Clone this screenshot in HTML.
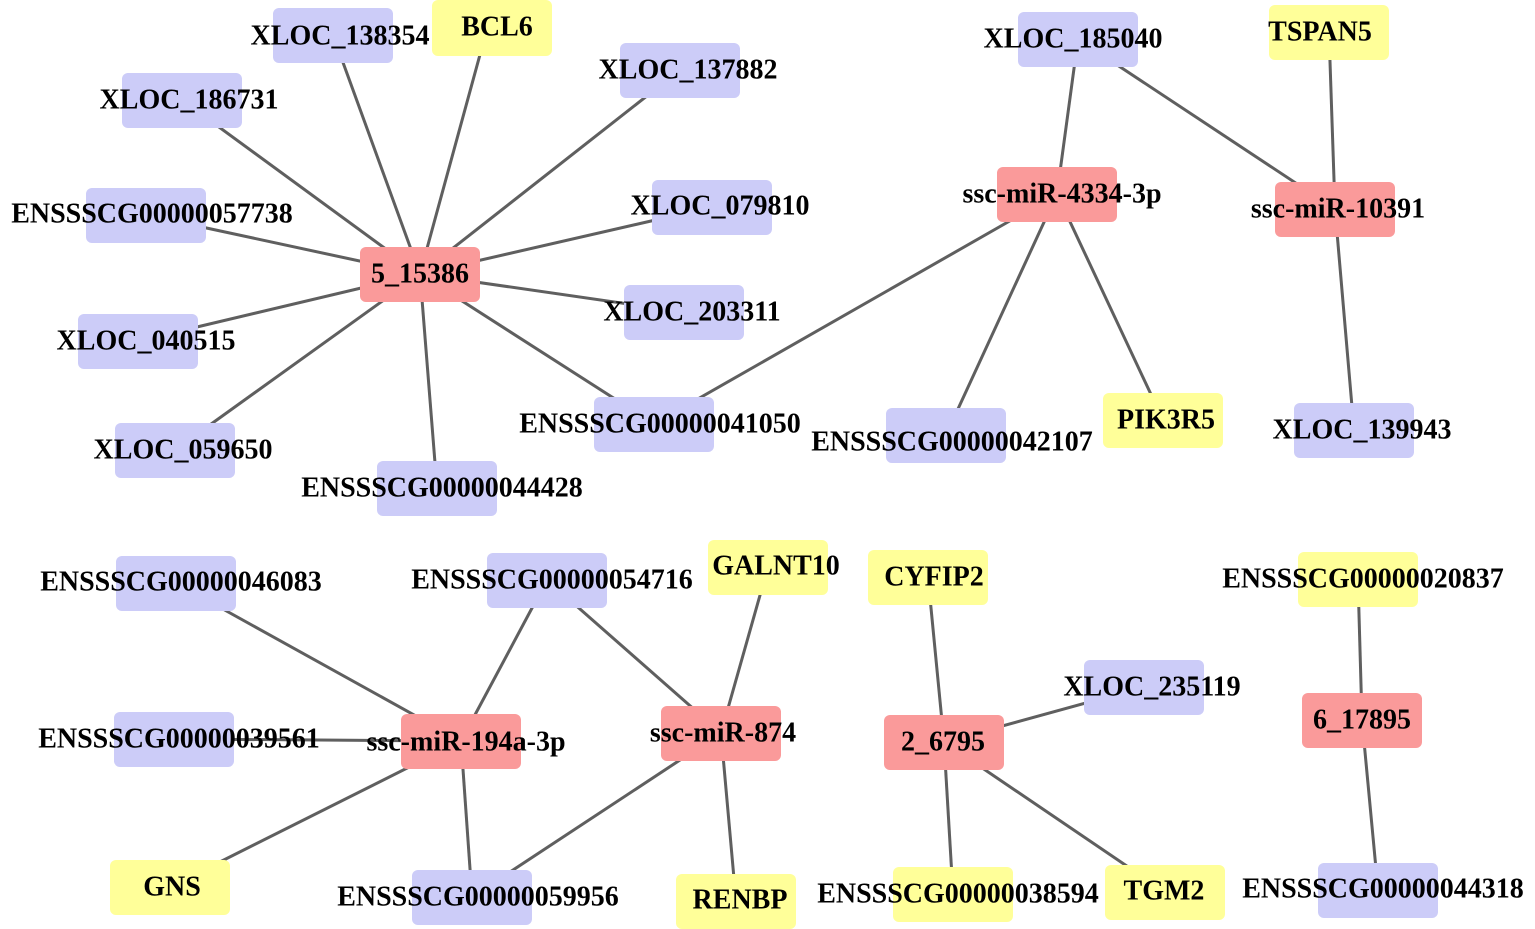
<!DOCTYPE html>
<html><head><meta charset="utf-8"><style>
html,body{margin:0;padding:0;background:#fff;}
svg{display:block}
text{font-family:"Liberation Serif",serif;font-weight:bold;font-size:28px;fill:#000;text-anchor:middle;dominant-baseline:central}
</style></head><body>
<svg width="1535" height="929" viewBox="0 0 1535 929" xmlns="http://www.w3.org/2000/svg">
<g stroke="#5f5f5f" stroke-width="3">
<line x1="420" y1="274" x2="333" y2="35"/>
<line x1="420" y1="274" x2="484" y2="40"/>
<line x1="420" y1="274" x2="680" y2="70"/>
<line x1="420" y1="274" x2="182" y2="100"/>
<line x1="420" y1="274" x2="146" y2="215"/>
<line x1="420" y1="274" x2="712" y2="207"/>
<line x1="420" y1="274" x2="684" y2="312"/>
<line x1="420" y1="274" x2="138" y2="341"/>
<line x1="420" y1="274" x2="654" y2="424"/>
<line x1="420" y1="274" x2="175" y2="450"/>
<line x1="420" y1="274" x2="437" y2="488"/>
<line x1="1057" y1="194" x2="1078" y2="39"/>
<line x1="1057" y1="194" x2="654" y2="424"/>
<line x1="1057" y1="194" x2="946" y2="435"/>
<line x1="1057" y1="194" x2="1163" y2="420"/>
<line x1="1335" y1="209" x2="1078" y2="39"/>
<line x1="1335" y1="209" x2="1329" y2="32"/>
<line x1="1335" y1="209" x2="1354" y2="430"/>
<line x1="461" y1="741" x2="176" y2="583"/>
<line x1="461" y1="741" x2="547" y2="580"/>
<line x1="461" y1="741" x2="174" y2="739"/>
<line x1="461" y1="741" x2="170" y2="887"/>
<line x1="461" y1="741" x2="472" y2="897"/>
<line x1="721" y1="733" x2="547" y2="580"/>
<line x1="721" y1="733" x2="768" y2="567"/>
<line x1="721" y1="733" x2="472" y2="897"/>
<line x1="721" y1="733" x2="736" y2="901"/>
<line x1="944" y1="742" x2="928" y2="577"/>
<line x1="944" y1="742" x2="1144" y2="687"/>
<line x1="944" y1="742" x2="953" y2="894"/>
<line x1="944" y1="742" x2="1165" y2="892"/>
<line x1="1362" y1="720" x2="1358" y2="579"/>
<line x1="1362" y1="720" x2="1378" y2="890"/>
</g>
<g>
<rect x="273" y="8" width="120" height="55" rx="6" fill="#ccccf8"/>
<rect x="432" y="0" width="120" height="56" rx="6" fill="#ffff99"/>
<rect x="620" y="43" width="120" height="55" rx="6" fill="#ccccf8"/>
<rect x="122" y="73" width="120" height="55" rx="6" fill="#ccccf8"/>
<rect x="86" y="188" width="120" height="55" rx="6" fill="#ccccf8"/>
<rect x="652" y="180" width="120" height="55" rx="6" fill="#ccccf8"/>
<rect x="360" y="247" width="120" height="55" rx="6" fill="#fa9a9a"/>
<rect x="624" y="285" width="120" height="55" rx="6" fill="#ccccf8"/>
<rect x="78" y="314" width="120" height="55" rx="6" fill="#ccccf8"/>
<rect x="594" y="397" width="120" height="55" rx="6" fill="#ccccf8"/>
<rect x="115" y="423" width="120" height="55" rx="6" fill="#ccccf8"/>
<rect x="377" y="461" width="120" height="55" rx="6" fill="#ccccf8"/>
<rect x="1018" y="12" width="120" height="55" rx="6" fill="#ccccf8"/>
<rect x="1269" y="5" width="120" height="55" rx="6" fill="#ffff99"/>
<rect x="997" y="167" width="120" height="55" rx="6" fill="#fa9a9a"/>
<rect x="1275" y="182" width="120" height="55" rx="6" fill="#fa9a9a"/>
<rect x="886" y="408" width="120" height="55" rx="6" fill="#ccccf8"/>
<rect x="1103" y="393" width="120" height="55" rx="6" fill="#ffff99"/>
<rect x="1294" y="403" width="120" height="55" rx="6" fill="#ccccf8"/>
<rect x="116" y="556" width="120" height="55" rx="6" fill="#ccccf8"/>
<rect x="487" y="553" width="120" height="55" rx="6" fill="#ccccf8"/>
<rect x="708" y="540" width="120" height="55" rx="6" fill="#ffff99"/>
<rect x="868" y="550" width="120" height="55" rx="6" fill="#ffff99"/>
<rect x="1298" y="552" width="120" height="55" rx="6" fill="#ffff99"/>
<rect x="1084" y="660" width="120" height="55" rx="6" fill="#ccccf8"/>
<rect x="114" y="712" width="120" height="55" rx="6" fill="#ccccf8"/>
<rect x="401" y="714" width="120" height="55" rx="6" fill="#fa9a9a"/>
<rect x="661" y="706" width="120" height="55" rx="6" fill="#fa9a9a"/>
<rect x="884" y="715" width="120" height="55" rx="6" fill="#fa9a9a"/>
<rect x="1302" y="693" width="120" height="55" rx="6" fill="#fa9a9a"/>
<rect x="110" y="860" width="120" height="55" rx="6" fill="#ffff99"/>
<rect x="412" y="870" width="120" height="55" rx="6" fill="#ccccf8"/>
<rect x="676" y="874" width="120" height="55" rx="6" fill="#ffff99"/>
<rect x="893" y="867" width="120" height="55" rx="6" fill="#ffff99"/>
<rect x="1105" y="865" width="120" height="55" rx="6" fill="#ffff99"/>
<rect x="1318" y="863" width="120" height="55" rx="6" fill="#ccccf8"/>
</g>
<g>
<text x="340" y="36">XLOC_138354</text>
<text x="497" y="27">BCL6</text>
<text x="688" y="70">XLOC_137882</text>
<text x="189" y="100">XLOC_186731</text>
<text x="152" y="214">ENSSSCG00000057738</text>
<text x="720" y="206">XLOC_079810</text>
<text x="420" y="274">5_15386</text>
<text x="692" y="312">XLOC_203311</text>
<text x="146" y="341">XLOC_040515</text>
<text x="660" y="424">ENSSSCG00000041050</text>
<text x="183" y="450">XLOC_059650</text>
<text x="442" y="488">ENSSSCG00000044428</text>
<text x="1073" y="39">XLOC_185040</text>
<text x="1320" y="32">TSPAN5</text>
<text x="1062" y="194">ssc-miR-4334-3p</text>
<text x="1338" y="209">ssc-miR-10391</text>
<text x="952" y="442">ENSSSCG00000042107</text>
<text x="1166" y="420">PIK3R5</text>
<text x="1362" y="430">XLOC_139943</text>
<text x="181" y="582">ENSSSCG00000046083</text>
<text x="552" y="580">ENSSSCG00000054716</text>
<text x="776" y="566">GALNT10</text>
<text x="934" y="577">CYFIP2</text>
<text x="1363" y="579">ENSSSCG00000020837</text>
<text x="1152" y="687">XLOC_235119</text>
<text x="179" y="739">ENSSSCG00000039561</text>
<text x="466" y="742">ssc-miR-194a-3p</text>
<text x="723" y="733">ssc-miR-874</text>
<text x="943" y="742">2_6795</text>
<text x="1362" y="720">6_17895</text>
<text x="172" y="887">GNS</text>
<text x="478" y="897">ENSSSCG00000059956</text>
<text x="740" y="900">RENBP</text>
<text x="958" y="894">ENSSSCG00000038594</text>
<text x="1164" y="891">TGM2</text>
<text x="1383" y="889">ENSSSCG00000044318</text>
</g>
</svg>
</body></html>
